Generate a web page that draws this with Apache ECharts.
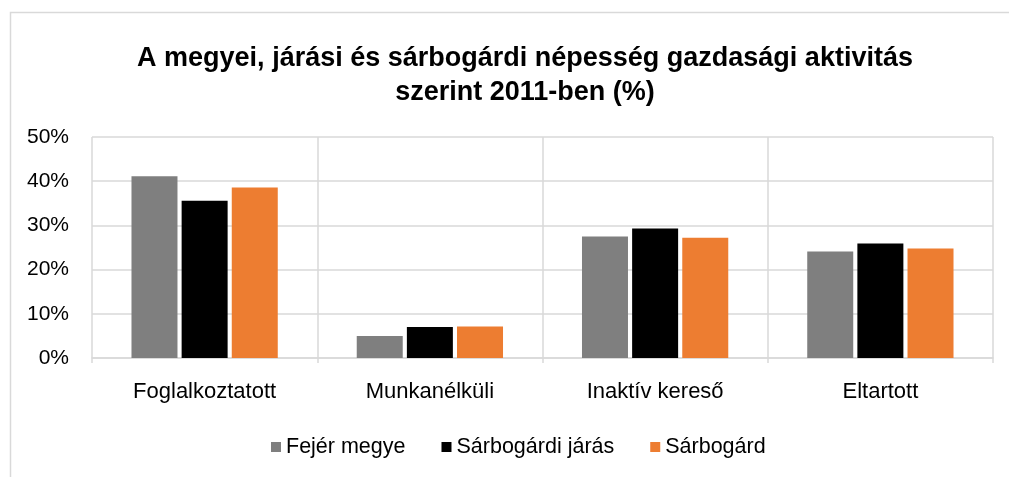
<!DOCTYPE html>
<html>
<head>
<meta charset="utf-8">
<script src="https://cdn.jsdelivr.net/npm/echarts@6/dist/echarts.min.js"></script>
<style>
html,body{margin:0;padding:0;background:#fff;}
#chart{width:1009px;height:477px;}
</style>
</head>
<body>
<div id="chart"></div>
<script>
const categories = ['Foglalkoztatott', 'Munkanélküli', 'Inaktív kereső', 'Eltartott'];
const seriesNames = ['Fejér megye', 'Sárbogárdi járás', 'Sárbogárd'];
const fejerMegye = [41.1, 5.0, 27.5, 24.1];
const sarbogardiJaras = [35.6, 7.0, 29.3, 25.9];
const sarbogard = [38.6, 7.1, 27.2, 24.8];
const yTicks = [0, 10, 20, 30, 40, 50];
const colors = ['#7f7f7f', '#000000', '#ed7d31'];
const titleText = 'A megyei, járási és sárbogárdi népesség gazdasági aktivitás\nszerint 2011-ben (%)';

const FONT = '"Liberation Sans", Arial, sans-serif';
const chart = echarts.init(document.getElementById('chart'), null, {renderer: 'canvas'});
const values = [fejerMegye, sarbogardiJaras, sarbogard];

chart.setOption({
  animation: false,
  backgroundColor: '#fff',
  graphic: [{
    type: 'rect', left: 8, top: 10, z: -10,
    shape: {width: 1100, height: 600},
    style: {fill: 'none', stroke: '#d9d9d9', lineWidth: 1.5}
  }, {
    type: 'text', x: 525, y: 42, z: 10,
    style: {
      text: titleText,
      fontFamily: FONT, fontWeight: 'bold', fontSize: 27, lineHeight: 34,
      fill: '#000', textAlign: 'center', textVerticalAlign: 'top'
    }
  }],
  legend: {
    data: seriesNames,
    bottom: 14,
    left: 266,
    itemWidth: 10, itemHeight: 10, itemGap: 36,
    icon: 'rect',
    textStyle: {fontFamily: FONT, fontSize: 21.5, color: '#000'}
  },
  grid: {left: 92, right: 16, top: 137, bottom: 119, containLabel: false},
  xAxis: {
    type: 'category',
    data: categories,
    axisLine: {show: true, lineStyle: {color: '#d9d9d9', width: 1.5}},
    axisTick: {show: true, length: 5, lineStyle: {color: '#d9d9d9', width: 1.5}},
    splitLine: {show: true, lineStyle: {color: '#d9d9d9', width: 1.5}},
    axisLabel: {fontFamily: FONT, fontSize: 22, color: '#000', margin: 23}
  },
  yAxis: {
    type: 'value', min: 0, max: 50, interval: 10,
    axisLine: {show: false}, axisTick: {show: false},
    splitLine: {show: true, lineStyle: {color: '#d9d9d9', width: 1.5}},
    axisLabel: {
      fontFamily: FONT, fontSize: 21, color: '#000', margin: 23,
      formatter: v => (yTicks.includes(v) ? v + '%' : '')
    }
  },
  series: seriesNames.map((n, i) => ({
    name: n, type: 'bar', data: values[i],
    barWidth: 46, barGap: '9%',
    itemStyle: {color: colors[i]}
  }))
});
</script>
</body>
</html>
